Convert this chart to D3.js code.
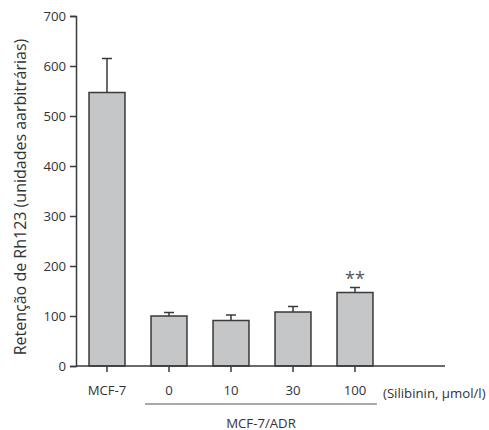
<!DOCTYPE html>
<html>
<head>
<meta charset="utf-8">
<script src="https://cdn.jsdelivr.net/npm/d3@7"></script>
<style>
  html, body { margin: 0; padding: 0; background: #fff; }
  svg { display: block; }
  text { font-family: "Open Sans", "Noto Sans", sans-serif; fill: #333; }
</style>
</head>
<body>
<div id="chart"></div>
<script>
// Rh123 retention by cell line and silibinin dose
const categories = ["MCF-7", "0", "10", "30", "100"];
const means = [547, 100, 91, 108, 147];
const errors = [68, 7, 11, 11, 10];
const significance = ["", "", "", "", "**"];
const yTicks = [0, 100, 200, 300, 400, 500, 600, 700];

const W = 489, H = 430;
const svg = d3.select("#chart").append("svg").attr("width", W).attr("height", H);

const x0 = 76, step = 62;
const x = d3.scaleBand().domain(categories)
  .range([x0, x0 + step * categories.length])
  .paddingInner(0.42).paddingOuter(0.21);
const y = d3.scaleLinear().domain([0, 700]).range([366, 16]);

const ink = "#3a3a3a";
const fs = 13.2;

// Bars
svg.selectAll("rect.bar").data(categories).enter().append("rect")
  .attr("class", "bar")
  .attr("x", d => x(d))
  .attr("width", x.bandwidth())
  .attr("y", (d, i) => y(means[i]))
  .attr("height", (d, i) => y(0) - y(means[i]))
  .attr("fill", "#c5c6c8")
  .attr("stroke", ink)
  .attr("stroke-width", 1.5);

// Upper error bars
const eb = svg.append("g").attr("stroke", ink).attr("stroke-width", 1.5);
categories.forEach((c, i) => {
  const cx = x(c) + x.bandwidth() / 2;
  eb.append("line").attr("x1", cx).attr("x2", cx)
    .attr("y1", y(means[i])).attr("y2", y(means[i] + errors[i]));
  eb.append("line").attr("x1", cx - 5).attr("x2", cx + 5)
    .attr("y1", y(means[i] + errors[i])).attr("y2", y(means[i] + errors[i]));
});

// Significance marks
svg.selectAll("text.sig").data(categories).enter().append("text")
  .attr("class", "sig")
  .attr("x", d => x(d) + x.bandwidth() / 2)
  .attr("y", (d, i) => y(means[i] + errors[i]) - 3)
  .attr("text-anchor", "middle")
  .attr("font-size", 18)
  .style("fill", "#555")
  .text((d, i) => significance[i]);

// Y axis
const yAxis = svg.append("g").attr("transform", `translate(${x0},0)`)
  .call(d3.axisLeft(y).tickValues(yTicks).tickSize(6).tickPadding(4));
yAxis.select(".domain").attr("stroke", ink).attr("stroke-width", 1.5);
yAxis.selectAll(".tick line").attr("stroke", ink).attr("stroke-width", 1.5);
yAxis.selectAll(".tick text").attr("font-size", fs).attr("font-family", "Open Sans, Noto Sans, sans-serif").style("fill", "#333");

// X axis
const xAxis = svg.append("g").attr("transform", `translate(0,${y(0)})`)
  .call(d3.axisBottom(x).tickSize(6).tickPadding(14));
xAxis.select(".domain").remove();
xAxis.selectAll(".tick line").attr("stroke", ink).attr("stroke-width", 1.5);
xAxis.selectAll(".tick text").attr("font-size", fs).attr("font-family", "Open Sans, Noto Sans, sans-serif").style("fill", "#333");
svg.append("line")
  .attr("x1", x0).attr("x2", 445).attr("y1", y(0)).attr("y2", y(0))
  .attr("stroke", ink).attr("stroke-width", 1.5);

// Dose unit label
const lastX = x("100") + x.bandwidth() / 2;
svg.append("text").attr("x", lastX + 28).attr("y", 397.5)
  .attr("font-size", fs).text("(Silibinin, µmol/l)");

// Group bracket for MCF-7/ADR
const gx1 = x("0") - 6, gx2 = x("100") + x.bandwidth() + 4;
svg.append("line").attr("x1", gx1).attr("x2", gx2).attr("y1", 404).attr("y2", 404)
  .attr("stroke", "#555").attr("stroke-width", 1.2);
svg.append("text").attr("x", (gx1 + gx2) / 2).attr("y", 427.5)
  .attr("text-anchor", "middle").attr("font-size", fs).text("MCF-7/ADR");

// Y axis title
svg.append("text")
  .attr("transform", `translate(26,${(y(0) + 22) / 2 + 3}) rotate(-90)`)
  .attr("text-anchor", "middle")
  .attr("font-size", 16)
  .text("Retenção de Rh123 (unidades aarbitrárias)");
</script>
</body>
</html>
